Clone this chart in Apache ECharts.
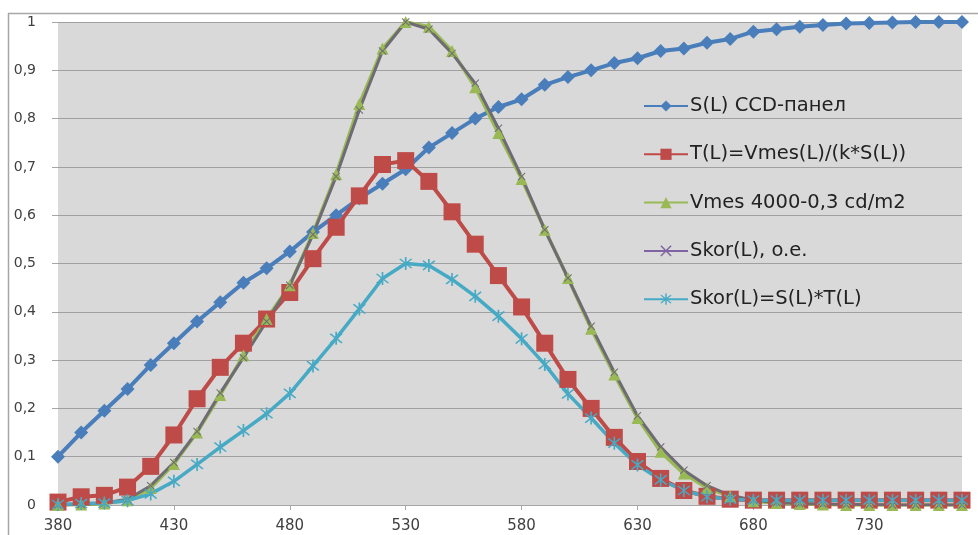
<!DOCTYPE html>
<html>
<head>
<meta charset="utf-8">
<script src="https://cdn.jsdelivr.net/npm/echarts@6/dist/echarts.min.js"></script>
<style>html,body{margin:0;padding:0;background:#fff}#c{width:978px;height:535px}</style>
</head>
<body>
<div id="c"></div>
<script>
const categories = [380,390,400,410,420,430,440,450,460,470,480,490,500,510,520,530,540,550,560,570,580,590,600,610,620,630,640,650,660,670,680,690,700,710,720,730,740,750,760,770];
const sCCD = [0.1,0.15,0.195,0.24,0.29,0.335,0.38,0.42,0.46,0.49,0.525,0.565,0.6,0.635,0.665,0.695,0.74,0.77,0.8,0.824,0.84,0.87,0.886,0.9,0.915,0.925,0.94,0.945,0.957,0.965,0.98,0.985,0.99,0.994,0.997,0.998,0.999,1,1,1];
const tL = [0.006,0.017,0.02,0.037,0.08,0.145,0.22,0.285,0.335,0.385,0.44,0.51,0.575,0.64,0.705,0.713,0.67,0.607,0.54,0.475,0.41,0.335,0.26,0.2,0.14,0.09,0.055,0.03,0.018,0.012,0.01,0.01,0.01,0.01,0.01,0.01,0.01,0.01,0.01,0.01];
const vmes = [0,0.001,0.003,0.01,0.035,0.085,0.15,0.228,0.31,0.385,0.455,0.563,0.685,0.83,0.945,1,0.99,0.94,0.865,0.77,0.675,0.57,0.47,0.365,0.27,0.18,0.11,0.065,0.035,0.018,0.008,0.004,0.002,0.001,0,0,0,0,0,0];
const skorOE = [0,0.001,0.004,0.012,0.04,0.088,0.152,0.232,0.305,0.38,0.455,0.56,0.68,0.818,0.94,1,0.985,0.935,0.873,0.78,0.68,0.57,0.47,0.37,0.275,0.185,0.12,0.072,0.04,0.02,0.01,0.005,0.003,0.002,0.001,0.001,0,0,0,0];
const skorST = [0.001,0.003,0.004,0.009,0.023,0.049,0.084,0.12,0.154,0.189,0.231,0.288,0.345,0.406,0.469,0.5,0.496,0.467,0.432,0.391,0.344,0.291,0.23,0.18,0.128,0.083,0.052,0.03,0.017,0.012,0.01,0.01,0.01,0.01,0.01,0.01,0.01,0.01,0.01,0.01];
const yTicks = [0,0.1,0.2,0.3,0.4,0.5,0.6,0.7,0.8,0.9,1];
const seriesNames = ['S(L) CCD-панел','T(L)=Vmes(L)/(k*S(L))','Vmes 4000-0,3 cd/m2','Skor(L), o.e.','Skor(L)=S(L)*T(L)'];

const FONT = '"DejaVu Sans", "Open Sans", sans-serif';
const asterisk = 'path://M9,0h2v20h-2z M2.2,3.6l1.4,-1.4l14.2,14.2l-1.4,1.4z M16.4,2.2l1.4,1.4l-14.2,14.2l-1.4,-1.4z';
const xmark = 'path://M2.2,3.6l1.4,-1.4l14.2,14.2l-1.4,1.4z M16.4,2.2l1.4,1.4l-14.2,14.2l-1.4,-1.4z';
const chart = echarts.init(document.getElementById('c'), null, {renderer:'canvas'});
chart.setOption({
  animation:false,
  backgroundColor:'#ffffff',
  grid:{left:58,right:16,top:22,bottom:30,show:true,backgroundColor:'#d9d9d9',borderWidth:0},
  graphic:[
    {type:'line',shape:{x1:8,y1:13.5,x2:978,y2:13.5},style:{stroke:'#a6a6a6',lineWidth:1.5}},
    {type:'line',shape:{x1:8.5,y1:13,x2:8.5,y2:535},style:{stroke:'#a6a6a6',lineWidth:1.5}}
  ],
  legend:{
    orient:'vertical',left:643,top:96,padding:0,itemWidth:44,itemHeight:14,itemGap:28.3,
    textStyle:{fontFamily:FONT,fontSize:19.5,lineHeight:20,color:'#222222',padding:[0,0,0,-3]},
    data:[
      {name:seriesNames[0]},
      {name:seriesNames[1]},
      {name:seriesNames[2]},
      {name:seriesNames[3],itemStyle:{color:'#8064a2'},lineStyle:{color:'#8064a2'}},
      {name:seriesNames[4]}
    ]
  },
  xAxis:{
    type:'category',data:categories,boundaryGap:false,
    axisLine:{lineStyle:{color:'#a6a6a6',width:1}},
    axisTick:{interval:4,length:5,lineStyle:{color:'#a6a6a6'}},
    axisLabel:{interval:4,margin:14,fontFamily:FONT,fontSize:15,color:'#404040'},
    splitLine:{show:false}
  },
  yAxis:{
    type:'value',min:0,max:1,interval:0.1,
    axisLine:{show:false},
    axisTick:{show:true,length:6,lineStyle:{color:'#a6a6a6'}},
    axisLabel:{margin:22,fontFamily:FONT,fontSize:14,color:'#404040',
      formatter:function(v){return yTicks.indexOf(Math.round(v*10)/10)>=0 ? String(Math.round(v*10)/10).replace('.',',') : '';}},
    splitLine:{lineStyle:{color:'#a0a0a0',width:1}}
  },
  series:[
    {name:seriesNames[0],type:'line',data:sCCD,symbol:'diamond',symbolSize:14,showAllSymbol:true,
      lineStyle:{color:'#4a7ebb',width:4},itemStyle:{color:'#4a7ebb'}},
    {name:seriesNames[1],type:'line',data:tL,symbol:'rect',symbolSize:17,showAllSymbol:true,
      lineStyle:{color:'#be4b48',width:4},itemStyle:{color:'#be4b48'}},
    {name:seriesNames[2],type:'line',data:vmes,symbol:'triangle',symbolSize:12,showAllSymbol:true,
      lineStyle:{color:'#98b954',width:3.5},itemStyle:{color:'#98b954'}},
    {name:seriesNames[3],type:'line',data:skorOE,symbol:xmark,symbolSize:8,showAllSymbol:true,
      lineStyle:{color:'#6f6b74',width:3},itemStyle:{color:'#6f6b74'}},
    {name:seriesNames[4],type:'line',data:skorST,symbol:asterisk,symbolSize:13,showAllSymbol:true,
      lineStyle:{color:'#46aac5',width:3.5},itemStyle:{color:'#46aac5'}}
  ]
});
</script>
</body>
</html>
